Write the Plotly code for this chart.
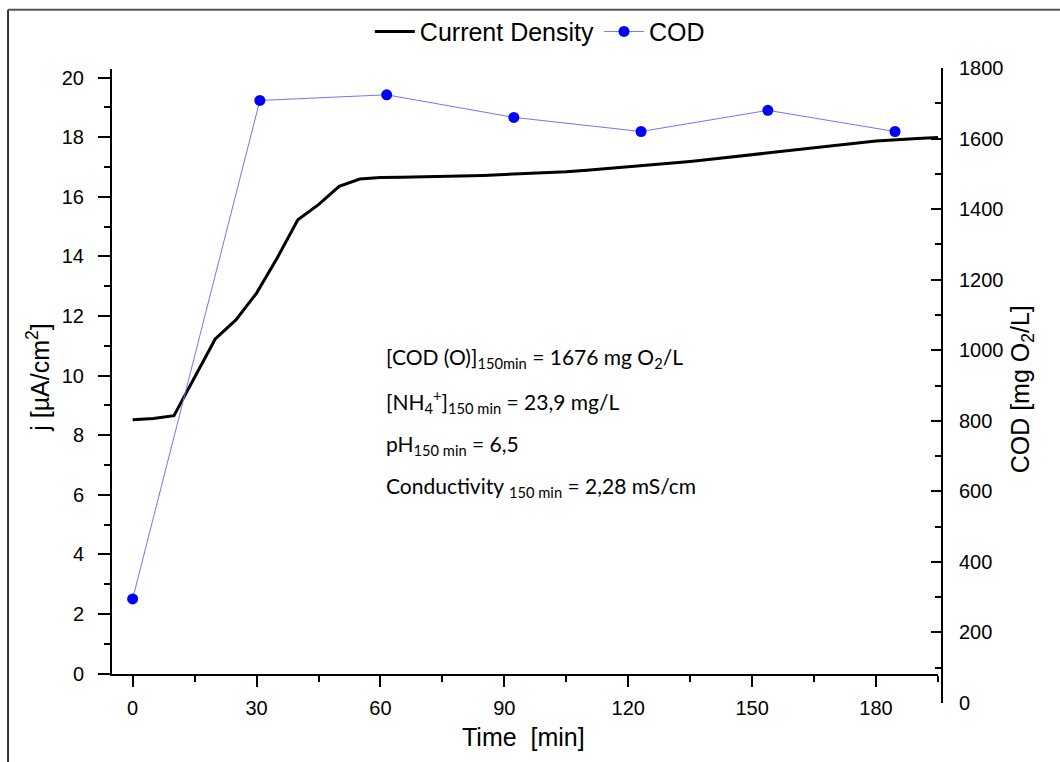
import plotly.graph_objects as go

# ---- data ----
time_j = [0, 5, 10, 15, 20, 25, 30, 35, 40, 45, 50, 55, 60, 65, 70, 75, 80, 85, 90, 95,
          100, 105, 110, 115, 120, 125, 130, 135, 140, 145, 150, 155, 160, 165, 170, 175,
          180, 185, 190, 195]
current_density = [8.52, 8.56, 8.66, 9.95, 11.23, 11.87, 12.77, 13.95, 15.23, 15.74, 16.35,
                   16.60, 16.65, 16.66, 16.67, 16.68, 16.69, 16.72, 16.75, 16.78, 16.80, 16.84,
                   16.89, 16.95, 17.00, 17.05, 17.12, 17.19, 17.26, 17.34, 17.42, 17.50, 17.58,
                   17.65, 17.72, 17.80, 17.87, 17.92, 17.96, 17.99]
time_cod = [0, 30.8, 61.5, 92.3, 123.1, 153.8, 184.6]
cod = [295, 1708, 1724, 1660, 1620, 1680, 1620]

x_ticks = [0, 30, 60, 90, 120, 150, 180]
y_ticks = [0, 2, 4, 6, 8, 10, 12, 14, 16, 18, 20]
y2_ticks = [0, 200, 400, 600, 800, 1000, 1200, 1400, 1600, 1800]

notes = [
    "[COD (O)]<sub>150min</sub> = 1676 mg O<sub>2</sub>/L",
    "[NH<sub>4</sub><sup>+</sup>]<sub>150 min</sub> = 23,9 mg/L",
    "pH<sub>150 min</sub> = 6,5",
    "Conductivity <sub>150 min</sub> = 2,28 mS/cm",
]

# ---- layout geometry (pixels) ----
W, H = 1060, 762
L, R = 112, 942.3          # plot area left / right (right axis position)
TOP, BOT = 68.3, 703.3     # right axis extent
X_END = 938.3              # x axis right end
Y_BOT, Y_TOP = 674, 69     # left axis extent


def px(x):
    return (x - L) / (R - L)


def py(y):
    return (BOT - y) / (BOT - TOP)


FONT = "Liberation Sans, Arial, sans-serif"

fig = go.Figure()
fig.add_trace(go.Scatter(
    x=time_j, y=current_density, name="Current Density", mode="lines",
    line=dict(color="black", width=3), xaxis="x", yaxis="y"))
fig.add_trace(go.Scatter(
    x=time_cod, y=cod, name="COD", mode="lines+markers",
    line=dict(color="rgb(115,115,255)", width=1),
    marker=dict(color="#0000ff", size=11), xaxis="x", yaxis="y2"))

axis_common = dict(showgrid=False, zeroline=False, showline=True, linecolor="black",
                   linewidth=2, tickcolor="black", tickwidth=2,
                   tickfont=dict(family=FONT, size=20, color="black"))

fig.update_layout(
    width=W, height=H,
    margin=dict(l=L, r=W - R, t=TOP, b=H - BOT, autoexpand=False),
    paper_bgcolor="white", plot_bgcolor="rgba(0,0,0,0)",
    showlegend=True,
    legend=dict(orientation="h", x=px(540), y=py(32), xanchor="center", yanchor="middle",
                font=dict(family=FONT, size=25, color="black"), bgcolor="rgba(0,0,0,0)",
                itemwidth=40),
    xaxis=dict(domain=[0, px(X_END)], range=[-5, 195], tickvals=x_ticks, anchor="y",
               ticks="outside", ticklen=11, ticklabelstandoff=4,
               minor=dict(dtick=15, tick0=0, ticks="outside", ticklen=6,
                          tickcolor="black", tickwidth=2),
               **axis_common),
    yaxis=dict(domain=[py(Y_BOT), py(Y_TOP)], range=[0, 20.3], tickvals=y_ticks,
               anchor="x", ticks="outside", ticklen=12, ticklabelstandoff=10,
               minor=dict(dtick=1, tick0=0, ticks="outside", ticklen=6,
                          tickcolor="black", tickwidth=2),
               **axis_common),
    yaxis2=dict(domain=[0, 1], range=[0, 1800], tickvals=y2_ticks, anchor="free",
                position=1, side="right", ticks="inside", ticklen=10, ticklabelstandoff=12,
                minor=dict(dtick=100, tick0=0, ticks="inside", ticklen=6,
                           tickcolor="black", tickwidth=2),
                **axis_common),
)

annotations = [
    dict(text="Time \u00a0[min]", x=px(524), y=py(737), xref="paper", yref="paper",
         xanchor="center", yanchor="middle",
         showarrow=False, font=dict(family=FONT, size=25, color="black")),
    dict(text="j [\u00b5A/cm<sup>2</sup>]", x=px(38), y=py(378), xref="paper", yref="paper",
         xanchor="center", yanchor="middle",
         showarrow=False, textangle=-90, font=dict(family=FONT, size=25, color="black")),
    dict(text="COD [mg O<sub>2</sub>/L]", x=px(1022), y=py(390), xref="paper", yref="paper",
         xanchor="center", yanchor="middle",
         showarrow=False, textangle=-90, font=dict(family=FONT, size=25, color="black")),
]
for i, t in enumerate(notes):
    annotations.append(dict(text=t, x=px(384), y=py([358, 402, 445, 487][i]),
                            xref="paper", yref="paper", xanchor="left", yanchor="middle",
                            showarrow=False,
                            font=dict(family="Lato, Carlito, sans-serif", size=21,
                                      color="black")))
fig.update_layout(annotations=annotations)

# outer frame (left and top edges visible in the reference)
fig.add_shape(type="line", xref="paper", yref="paper", x0=px(8), x1=px(8),
              y0=py(10), y1=py(H + 5), line=dict(color="#333333", width=2))
fig.add_shape(type="line", xref="paper", yref="paper", x0=px(8), x1=px(W + 5),
              y0=py(10), y1=py(10), line=dict(color="#555555", width=2))

fig.write_html("out.html")
